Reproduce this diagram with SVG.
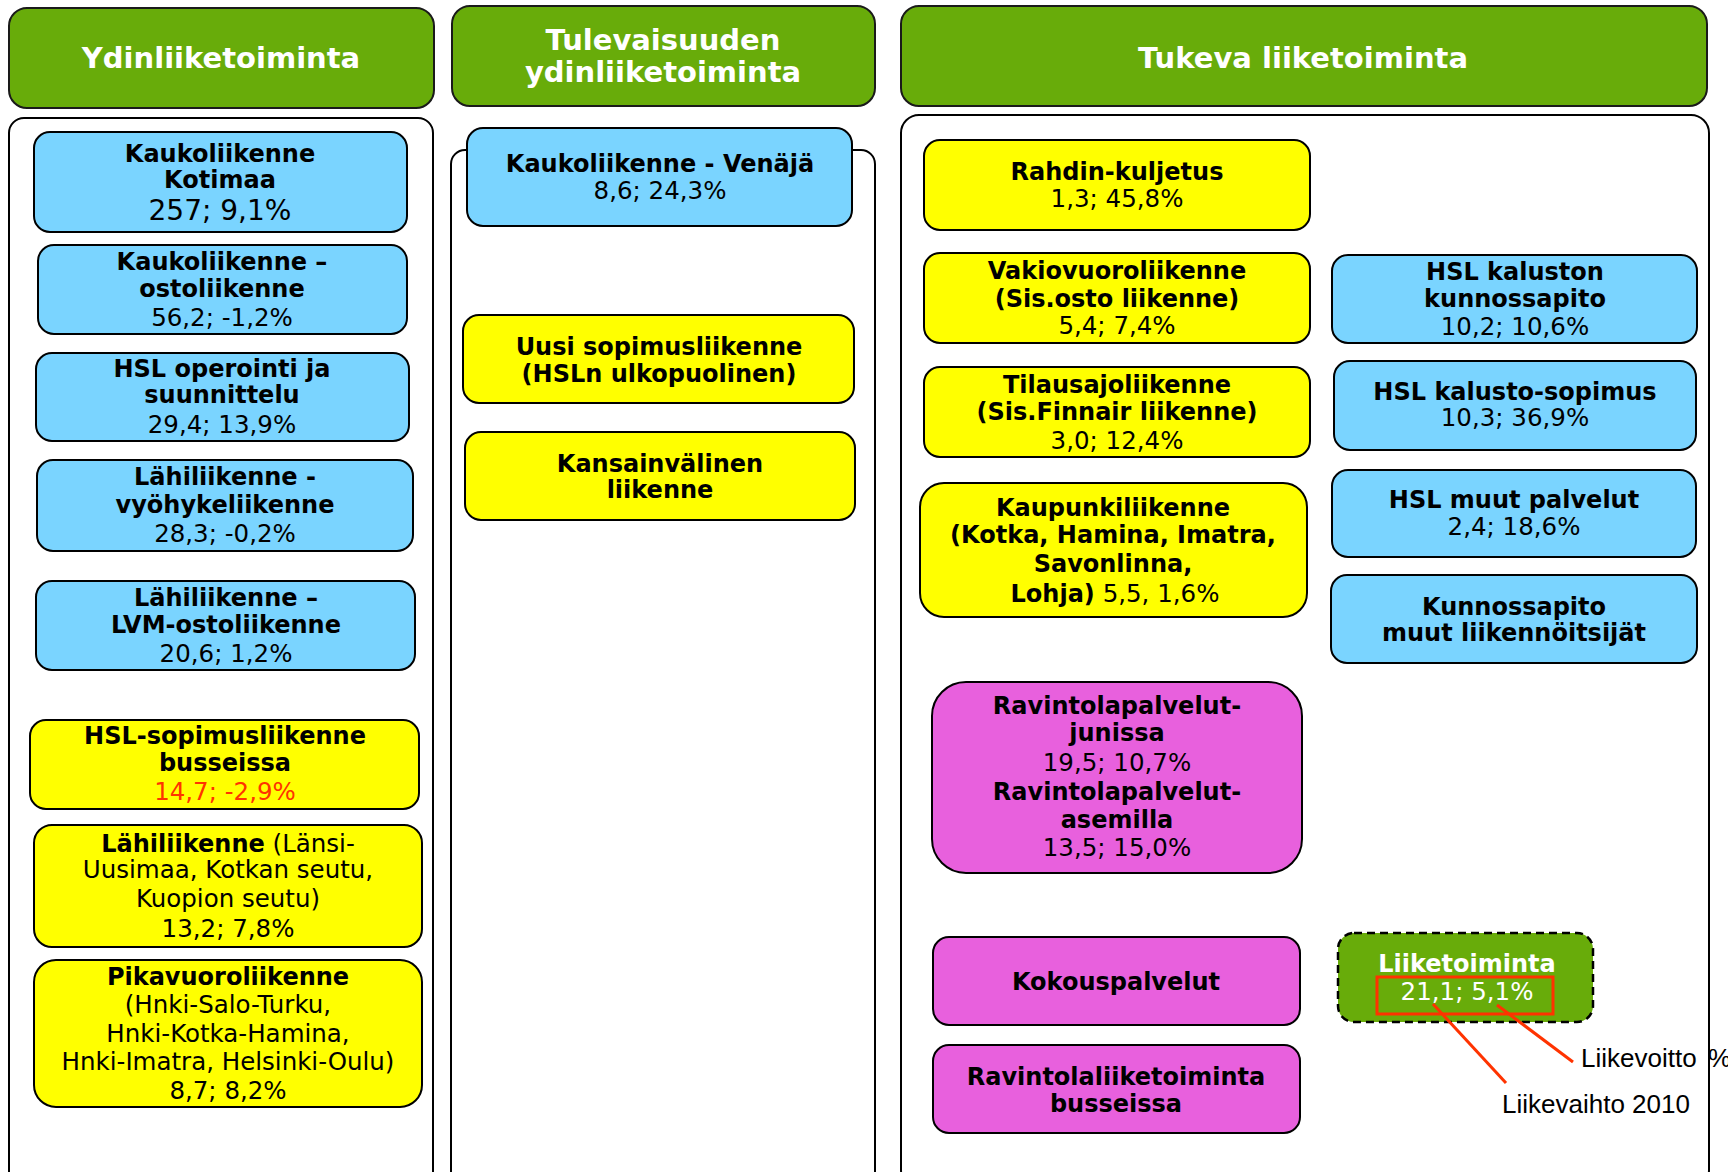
<svg xmlns="http://www.w3.org/2000/svg" width="1728" height="1172" viewBox="0 0 1728 1172">
  <style>
    text { font-family: "DejaVu Sans", Verdana, sans-serif; text-anchor: middle; fill: #000; }
    .hdr { fill: #68AC0A; stroke: #1a1a1a; stroke-width: 2; }
    .hdr-t { font-size: 29px; font-weight: bold; fill: #fff; }
    .panel { fill: #fff; stroke: #000; stroke-width: 2; }
    .blue { fill: #7AD4FF; stroke: #000; stroke-width: 2; }
    .yel { fill: #FFFF00; stroke: #000; stroke-width: 2; }
    .mag { fill: #E860DD; stroke: #000; stroke-width: 2; }
    .b { font-size: 24px; font-weight: bold; }
    .r { font-size: 24.5px; }
    .red { fill: #FF3300; }
    .note { font-family: "Liberation Sans", Arial, sans-serif; font-size: 26px; text-anchor: start; }
    .lead { stroke: #FF3300; stroke-width: 3; fill: none; }
  </style>

  <!-- column headers -->
  <g id="hdr-core">
    <rect class="hdr" x="9" y="8" width="425" height="100" rx="18"/>
    <text class="hdr-t" x="221" y="68">Ydinliiketoiminta</text>
  </g>
  <g id="hdr-future">
    <rect class="hdr" x="452" y="6" width="423" height="100" rx="18"/>
    <text class="hdr-t" x="663" y="50">Tulevaisuuden</text>
    <text class="hdr-t" x="663" y="82">ydinliiketoiminta</text>
  </g>
  <g id="hdr-support">
    <rect class="hdr" x="901" y="6" width="806" height="100" rx="18"/>
    <text class="hdr-t" x="1303" y="68">Tukeva liiketoiminta</text>
  </g>

  <!-- column panels, running off the bottom edge -->
  <g id="panels">
    <rect class="panel" x="9" y="118" width="424" height="1070" rx="15"/>
    <rect class="panel" x="451" y="150" width="424" height="1038" rx="14"/>
    <rect class="panel" x="901" y="115" width="808" height="1073" rx="18"/>
  </g>

  <!-- core business -->
  <g id="kauko-kotimaa">
    <rect class="blue" x="34" y="132" width="373" height="100" rx="16"/>
    <text class="b" x="220" y="162">Kaukoliikenne</text>
    <text class="b" x="220" y="188">Kotimaa</text>
    <text class="r" x="220" y="220" style="font-size:28px">257; 9,1%</text>
  </g>
  <g id="kauko-osto">
    <rect class="blue" x="38" y="245" width="369" height="89" rx="16"/>
    <text class="b" x="222" y="270">Kaukoliikenne –</text>
    <text class="b" x="222" y="297">ostoliikenne</text>
    <text class="r" x="222" y="326">56,2; -1,2%</text>
  </g>
  <g id="hsl-operointi">
    <rect class="blue" x="36" y="353" width="373" height="88" rx="16"/>
    <text class="b" x="222" y="377">HSL operointi ja</text>
    <text class="b" x="222" y="403">suunnittelu</text>
    <text class="r" x="222" y="433">29,4; 13,9%</text>
  </g>
  <g id="lahi-vyohyke">
    <rect class="blue" x="37" y="460" width="376" height="91" rx="16"/>
    <text class="b" x="225" y="485">Lähiliikenne -</text>
    <text class="b" x="225" y="513">vyöhykeliikenne</text>
    <text class="r" x="225" y="542">28,3; -0,2%</text>
  </g>
  <g id="lahi-lvm">
    <rect class="blue" x="36" y="581" width="379" height="89" rx="16"/>
    <text class="b" x="226" y="606">Lähiliikenne –</text>
    <text class="b" x="226" y="633">LVM-ostoliikenne</text>
    <text class="r" x="226" y="662">20,6; 1,2%</text>
  </g>
  <g id="hsl-sopimus">
    <rect class="yel" x="30" y="720" width="389" height="89" rx="16"/>
    <text class="b" x="225" y="744">HSL-sopimusliikenne</text>
    <text class="b" x="225" y="771">busseissa</text>
    <text class="r red" x="225" y="800">14,7; -2,9%</text>
  </g>
  <g id="lahi-muu">
    <rect class="yel" x="34" y="825" width="388" height="122" rx="18"/>
    <text class="r" x="228" y="852"><tspan class="b">Lähiliikenne</tspan> (Länsi-</text>
    <text class="r" x="228" y="878">Uusimaa, Kotkan seutu,</text>
    <text class="r" x="228" y="907">Kuopion seutu)</text>
    <text class="r" x="228" y="937">13,2; 7,8%</text>
  </g>
  <g id="pikavuoro">
    <rect class="yel" x="34" y="960" width="388" height="147" rx="22"/>
    <text class="b" x="228" y="985">Pikavuoroliikenne</text>
    <text class="r" x="228" y="1013">(Hnki-Salo-Turku,</text>
    <text class="r" x="228" y="1042">Hnki-Kotka-Hamina,</text>
    <text class="r" x="228" y="1070">Hnki-Imatra, Helsinki-Oulu)</text>
    <text class="r" x="228" y="1099">8,7; 8,2%</text>
  </g>

  <!-- future core business -->
  <g id="kauko-venaja">
    <rect class="blue" x="467" y="128" width="385" height="98" rx="16"/>
    <text class="b" x="660" y="172">Kaukoliikenne - Venäjä</text>
    <text class="r" x="660" y="199">8,6; 24,3%</text>
  </g>
  <g id="uusi-sopimus">
    <rect class="yel" x="463" y="315" width="391" height="88" rx="16"/>
    <text class="b" x="659" y="355">Uusi sopimusliikenne</text>
    <text class="b" x="659" y="382">(HSLn ulkopuolinen)</text>
  </g>
  <g id="kansainvalinen">
    <rect class="yel" x="465" y="432" width="390" height="88" rx="16"/>
    <text class="b" x="660" y="472">Kansainvälinen</text>
    <text class="b" x="660" y="498">liikenne</text>
  </g>

  <!-- supporting business -->
  <g id="rahti">
    <rect class="yel" x="924" y="140" width="386" height="90" rx="16"/>
    <text class="b" x="1117" y="180">Rahdin-kuljetus</text>
    <text class="r" x="1117" y="207">1,3; 45,8%</text>
  </g>
  <g id="vakiovuoro">
    <rect class="yel" x="924" y="253" width="386" height="90" rx="16"/>
    <text class="b" x="1117" y="279">Vakiovuoroliikenne</text>
    <text class="b" x="1117" y="307">(Sis.osto liikenne)</text>
    <text class="r" x="1117" y="334">5,4; 7,4%</text>
  </g>
  <g id="tilausajo">
    <rect class="yel" x="924" y="367" width="386" height="90" rx="16"/>
    <text class="b" x="1117" y="393">Tilausajoliikenne</text>
    <text class="b" x="1117" y="420">(Sis.Finnair liikenne)</text>
    <text class="r" x="1117" y="449">3,0; 12,4%</text>
  </g>
  <g id="kaupunki">
    <rect class="yel" x="920" y="483" width="387" height="134" rx="24"/>
    <text class="b" x="1113" y="516">Kaupunkiliikenne</text>
    <text class="b" x="1113" y="543">(Kotka, Hamina, Imatra,</text>
    <text class="b" x="1113" y="572">Savonlinna,</text>
    <text class="b" x="1115" y="602">Lohja)<tspan class="r" style="font-weight:normal"> 5,5, 1,6%</tspan></text>
  </g>
  <g id="ravintola-juna-asema">
    <rect class="mag" x="932" y="682" width="370" height="191" rx="34"/>
    <text class="b" x="1117" y="714">Ravintolapalvelut-</text>
    <text class="b" x="1117" y="741">junissa</text>
    <text class="r" x="1117" y="771">19,5; 10,7%</text>
    <text class="b" x="1117" y="800">Ravintolapalvelut-</text>
    <text class="b" x="1117" y="828">asemilla</text>
    <text class="r" x="1117" y="856">13,5; 15,0%</text>
  </g>
  <g id="kokous">
    <rect class="mag" x="933" y="937" width="367" height="88" rx="16"/>
    <text class="b" x="1116" y="990">Kokouspalvelut</text>
  </g>
  <g id="ravintola-bussi">
    <rect class="mag" x="933" y="1045" width="367" height="88" rx="16"/>
    <text class="b" x="1116" y="1085">Ravintolaliiketoiminta</text>
    <text class="b" x="1116" y="1112">busseissa</text>
  </g>
  <g id="hsl-kunnossapito">
    <rect class="blue" x="1332" y="255" width="365" height="88" rx="16"/>
    <text class="b" x="1515" y="280">HSL kaluston</text>
    <text class="b" x="1515" y="307">kunnossapito</text>
    <text class="r" x="1515" y="335">10,2; 10,6%</text>
  </g>
  <g id="hsl-kalustosopimus">
    <rect class="blue" x="1334" y="361" width="362" height="89" rx="16"/>
    <text class="b" x="1515" y="400">HSL kalusto-sopimus</text>
    <text class="r" x="1515" y="426">10,3; 36,9%</text>
  </g>
  <g id="hsl-muut">
    <rect class="blue" x="1332" y="470" width="364" height="87" rx="16"/>
    <text class="b" x="1514" y="508">HSL muut palvelut</text>
    <text class="r" x="1514" y="535">2,4; 18,6%</text>
  </g>
  <g id="kunnossapito-muut">
    <rect class="blue" x="1331" y="575" width="366" height="88" rx="16"/>
    <text class="b" x="1514" y="615">Kunnossapito</text>
    <text class="b" x="1514" y="641">muut liikennöitsijät</text>
  </g>

  <!-- legend -->
  <g id="legend">
    <rect x="1338" y="933" width="255" height="89" rx="16" fill="#68AC0A" stroke="#000" stroke-width="2.5" stroke-dasharray="8 5"/>
    <text class="b" x="1467" y="972" style="fill:#fff">Liiketoiminta</text>
    <text class="r" x="1467" y="1000" style="fill:#fff">21,1; 5,1%</text>
    <rect x="1377" y="977" width="176" height="37" fill="none" stroke="#FF3300" stroke-width="3"/>
  </g>
  <g id="connectors">
    <line class="lead" x1="1433" y1="1004" x2="1506" y2="1083"/>
    <line class="lead" x1="1497" y1="1005" x2="1573" y2="1062"/>
  </g>
  <g id="legend-notes">
    <text class="note" x="1581" y="1067">Liikevoitto<tspan x="1708">%</tspan></text>
    <text class="note" x="1502" y="1113">Liikevaihto 2010</text>
  </g>
</svg>
